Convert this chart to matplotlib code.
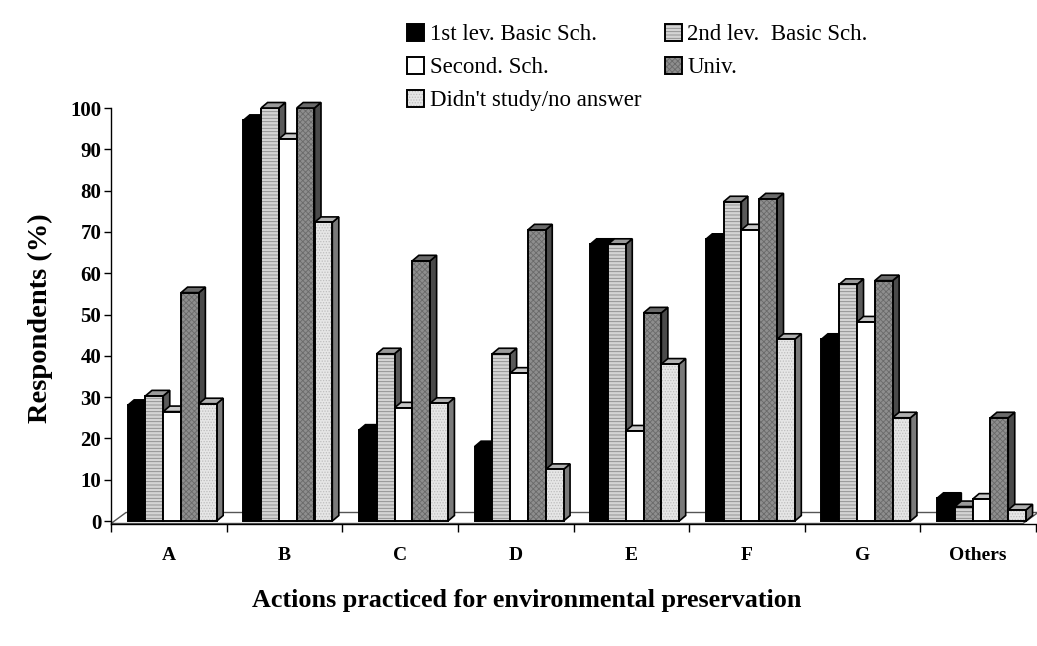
import matplotlib
matplotlib.use("Agg")
import matplotlib.pyplot as plt
from matplotlib.patches import Polygon
from matplotlib.transforms import IdentityTransform
from matplotlib.legend_handler import HandlerTuple
import numpy as np

categories = ["A", "B", "C", "D", "E", "F", "G", "Others"]
series_names = ["1st lev. Basic Sch.", "2nd lev.  Basic Sch.", "Second. Sch.", "Univ.",
                "Didn't study/no answer"]
basic1 = [28, 97, 22, 18, 67, 68.2, 44, 5.5]
basic2 = [30.3, 100, 40.5, 40.5, 67, 77.3, 57.3, 3.5]
second = [26.5, 92.5, 27.4, 35.8, 21.8, 70.5, 48.2, 5.3]
univ = [55.3, 100, 63, 70.5, 50.4, 78, 58.2, 25]
nostudy = [28.4, 72.3, 28.5, 12.5, 38, 44, 25, 2.7]
series = [basic1, basic2, second, univ, nostudy]
yticks = list(range(0, 101, 10))

fills = ["#000000", "#d4d4d4", "#ffffff", "#8e8e8e", "#e6e6e6"]
hatches = [None, "-----", None, "xxxxxx", "......"]
hatch_cols = [None, "#8a8a8a", None, "#6a6a6a", "#bdbdbd"]
side_cols = ["#000000", "#5a5a5a", "#a0a0a0", "#4a4a4a", "#7a7a7a"]
top_cols = ["#000000", "#9a9a9a", "#c8c8c8", "#6a6a6a", "#b0b0b0"]

plt.rcParams["font.family"] = ["Liberation Serif", "DejaVu Serif"]
plt.rcParams["hatch.linewidth"] = 0.6

W, H = 1037, 646
fig = plt.figure(figsize=(W / 100, H / 100), dpi=100)
ax = fig.add_axes([111 / W, (H - 523.5) / H, 925 / W, 415.5 / H])
ax.set_xlim(-0.5, len(categories) - 0.5)
ax.set_ylim(-0.6, 100)

x = np.arange(len(categories))
bw = 0.154
start = -0.5 + 0.144
dx, dy = 6.5, 5.5      # depth offset in pixels
floor_dx, floor_dy = 15, 11

fill_handles = []
for j, vals in enumerate(series):
    left = x + start + j * bw
    z = 3 + j * 0.1
    b_fill = ax.bar(left, vals, width=bw, align="edge", color=fills[j],
                    edgecolor="none", linewidth=0, zorder=z + 0.05)
    layers = [b_fill]
    if hatches[j]:
        b_h = ax.bar(left, vals, width=bw, align="edge", facecolor="none",
                     edgecolor=hatch_cols[j], linewidth=0, hatch=hatches[j],
                     zorder=z + 0.06)
        layers.append(b_h)
    b_out = ax.bar(left, vals, width=bw, align="edge", facecolor="none",
                   edgecolor="black", linewidth=1.4, zorder=z + 0.07)
    layers.append(b_out)
    fill_handles.append(tuple(layers))

    # depth faces (side and top) computed through the data transform
    for xl, v in zip(left, vals):
        (x0, y0), (x1, y1) = ax.transData.transform([(xl, 0), (xl + bw, v)])
        side = [(x1, y0), (x1, y1), (x1 + dx, y1 + dy), (x1 + dx, y0 + dy)]
        top = [(x0, y1), (x1, y1), (x1 + dx, y1 + dy), (x0 + dx, y1 + dy)]
        for verts, col in ((side, side_cols[j]), (top, top_cols[j])):
            p = Polygon(verts, closed=True, facecolor=col, edgecolor="black",
                        linewidth=1.2, transform=IdentityTransform(),
                        zorder=z, clip_on=False)
            ax.add_patch(p)

# floor
(fx0, fy0), (fx1, _) = ax.transData.transform([(-0.5, -0.6), (len(categories) - 0.5, -0.6)])
floor = Polygon([(fx0, fy0), (fx0 + floor_dx, fy0 + floor_dy), (fx1 + 2, fy0 + floor_dy),
                 (fx1 + 2 - floor_dx, fy0)],
                closed=True, facecolor="white", edgecolor="#555555", linewidth=1.0,
                transform=IdentityTransform(), zorder=1, clip_on=False)
ax.add_patch(floor)

# axes styling
for s in ["top", "right"]:
    ax.spines[s].set_visible(False)
ax.spines["left"].set_bounds(-0.6, 100)
ax.spines["left"].set_linewidth(1.0)
ax.spines["bottom"].set_linewidth(1.0)
ax.spines["bottom"].set_zorder(2)

ax.set_yticks(yticks)
ax.set_yticklabels([str(t) for t in yticks], fontsize=15, fontweight="bold")
ax.tick_params(axis="y", direction="out", length=5, width=1, pad=2)

ax.set_xticks(x)
ax.set_xticklabels(categories, fontsize=14, fontweight="bold")
ax.set_xticks(np.arange(-0.5, len(categories), 1.0), minor=True)
ax.tick_params(axis="x", which="major", length=0, pad=17)
ax.tick_params(axis="x", which="minor", direction="out", length=6, width=1)

fig.text(40 / W, 1 - 318 / H, "Respondents (%)", rotation=90, ha="center", va="center",
         fontsize=20.5, fontweight="bold")
fig.text(527 / W, 1 - 601 / H, "Actions practiced for environmental preservation",
         ha="center", va="center", fontsize=18.8, fontweight="bold")

# legend (row-major layout like the original)
hmap = {tuple: HandlerTuple(ndivide=1, pad=0)}
order = [0, 2, 1, 3]
leg1 = fig.legend([fill_handles[i] for i in order], [series_names[i] for i in order],
                  loc="upper left", bbox_to_anchor=(407 / W, 1 - 24 / H), ncol=2,
                  frameon=False, fontsize=16.5, handlelength=0.75, handleheight=0.75,
                  handletextpad=0.25, labelspacing=0.5, columnspacing=2.95,
                  borderpad=0, borderaxespad=0, handler_map=hmap)
leg2 = fig.legend([fill_handles[4]], [series_names[4]],
                  loc="upper left", bbox_to_anchor=(407 / W, 1 - 90 / H),
                  frameon=False, fontsize=16.5, handlelength=0.75, handleheight=0.75,
                  handletextpad=0.25, borderpad=0, borderaxespad=0, handler_map=hmap)

fig.savefig("out.png", dpi=100)
